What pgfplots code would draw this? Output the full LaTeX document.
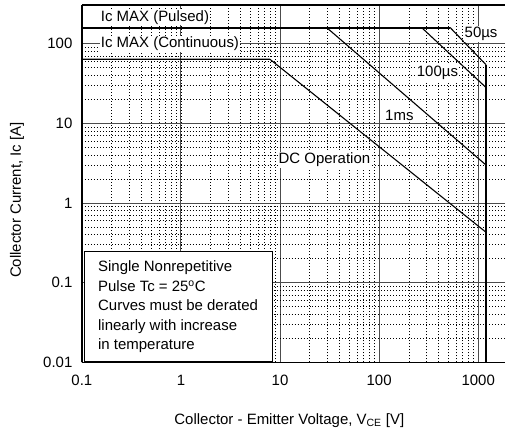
\documentclass[border=0pt]{standalone}
\usepackage{pgfplots}
\pgfplotsset{compat=1.18}
\usepackage{fontspec}
\setmainfont{Liberation Sans}

\begin{document}
\begin{tikzpicture}
\begin{axis}[
    name=ax,
    scale only axis,
    width=424pt, height=358pt,
    xmode=log, ymode=log,
    xmin=0.1, xmax=1871,
    ymin=0.01, ymax=307,
    axis x line*=box,
    axis y line*=left,
    axis line style={line width=1.6pt},
    xtick={0.1,1,10,100,1000},
    xticklabels={0.1,1,10,100,1000},
    ytick={0.01,0.1,1,10,100},
    yticklabels={0.01,0.1,1,10,100},
    major tick length=0pt, minor tick length=0pt,
    grid=both,
    major grid style={line width=1pt, draw=black!70},
    minor grid style={line width=0.8pt, draw=black, dash pattern=on 1pt off 2pt},
    /pgf/number format/assume math mode=true,
    tick label style={font=\fontsize{15}{17}\selectfont},
    xticklabel style={yshift=-9pt},
    yticklabel style={xshift=-6pt},
    label style={font=\fontsize{15}{17}\selectfont},
    xlabel={Collector - Emitter Voltage, V\textsubscript{CE} [V]},
    ylabel={Collector Current, Ic [A]},
    xlabel style={at={(axis description cs:0.49,-0.162)}, anchor=center},
    ylabel style={at={(axis description cs:-0.153,0.454)}, anchor=center},
    clip=true,
]
% DC operation
\addplot[black, line width=1.1pt] coordinates {(0.1,64) (7.9,64) (1200,0.43)};
% 1 ms
\addplot[black, line width=1.1pt] coordinates {(29.5,160) (1200,3.0)};
% 100 us
\addplot[black, line width=1.1pt] coordinates {(268,160) (1200,28.2)};
% 50 us
\addplot[black, line width=1.1pt] coordinates {(520,160) (1200,54.5)};
% pulsed limit and voltage limit
\addplot[black, line width=2pt] coordinates {(0.1,160) (520,160)};
\addplot[black, line width=2pt] coordinates {(1200,54.5) (1200,0.01)};

\begin{scope}[every node/.style={fill=white, inner sep=1pt, font=\fontsize{15}{17}\selectfont}]
\node[anchor=west] at (rel axis cs:0.042,0.966) {Ic MAX (Pulsed)};
\node[anchor=west] at (rel axis cs:0.042,0.891) {Ic MAX (Continuous)};
\node at (rel axis cs:0.943,0.919) {50µs};
\node at (rel axis cs:0.840,0.810) {100µs};
\node at (rel axis cs:0.750,0.690) {1ms};
\node at (rel axis cs:0.573,0.567) {DC Operation};
\end{scope}
% note box
\draw[line width=0.8pt, fill=white] (rel axis cs:0.007,0.003) rectangle (rel axis cs:0.450,0.310);
\node[anchor=north west, inner sep=0pt, align=left,
      font=\fontsize{15}{19.5}\selectfont]
  at (rel axis cs:0.038,0.284)
  {Single Nonrepetitive\\Pulse Tc = 25\textsuperscript{o}C\\Curves must be derated\\linearly with increase\\in temperature};
\end{axis}
\path (ax.south west) ++(-82pt,-71pt) rectangle ([yshift=5pt]ax.north east);
\end{tikzpicture}
\end{document}
